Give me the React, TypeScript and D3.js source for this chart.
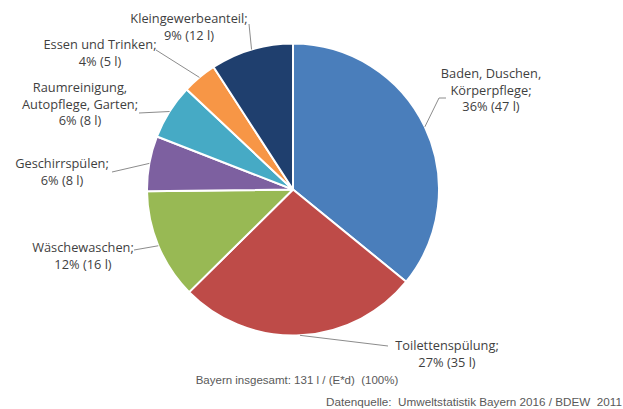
import React from "react";
import * as d3 from "d3";

const categories = [
  "Baden, Duschen, Körperpflege",
  "Toilettenspülung",
  "Wäschewaschen",
  "Geschirrspülen",
  "Raumreinigung, Autopflege, Garten",
  "Essen und Trinken",
  "Kleingewerbeanteil",
];
const liters = [47, 35, 16, 8, 8, 5, 12];
const percents = [36, 27, 12, 6, 6, 4, 9];
const labelLines = [
  ["Baden, Duschen,", "Körperpflege;", "36% (47 l)"],
  ["Toilettenspülung;", "27% (35 l)"],
  ["Wäschewaschen;", "12% (16 l)"],
  ["Geschirrspülen;", "6% (8 l)"],
  ["Raumreinigung,", "Autopflege, Garten;", "6% (8 l)"],
  ["Essen und Trinken;", "4% (5 l)"],
  ["Kleingewerbeanteil;", "9% (12 l)"],
];
const colors = ["#4A7EBB", "#BE4B48", "#98B954", "#7D60A0", "#46AAC5", "#F79646", "#1F3F6E"];

// label layout (centre x, first baseline y) and leader knee points
const labelPos: [number, number][] = [
  [491, 78],
  [447, 350],
  [83, 252],
  [62, 168],
  [80, 92],
  [100, 49],
  [189, 23],
];
const leaderStart: [number, number][][] = [
  [[446, 98], [439, 98]],
  [[388, 346]],
  [[134, 250]],
  [[112, 172]],
  [[139, 113]],
  [[156, 50]],
  [[249, 24]],
];

export default function App() {
  const W = 623, H = 409;
  const cx = 293, cy = 189.5, r = 146;
  const pie = d3.pie<number>().sort(null).value((d) => d);
  const arcs = pie(liters);
  const arcGen = d3.arc<d3.PieArcDatum<number>>().innerRadius(0).outerRadius(r);
  const total = d3.sum(liters);

  return (
    <svg width={W} height={H} style={{ position: "absolute", left: 0, top: 0, background: "#fff" }}>
      <g transform={`translate(${cx},${cy})`}>
        {arcs.map((a, i) => (
          <path key={categories[i]} d={arcGen(a) || ""} fill={colors[i]} stroke="#fff" strokeWidth={2} strokeLinejoin="round" />
        ))}
      </g>
      {arcs.map((a, i) => {
        const mid = (a.startAngle + a.endAngle) / 2;
        const px = cx + r * Math.sin(mid);
        const py = cy - r * Math.cos(mid);
        const pts = [...leaderStart[i], [px, py]];
        return (
          <polyline key={"l" + i} points={pts.map((p) => p.join(",")).join(" ")} fill="none" stroke="#8c8c8c" strokeWidth={1} />
        );
      })}
      {labelLines.map((lines, i) => (
        <text key={"t" + i} x={labelPos[i][0]} y={labelPos[i][1]} textAnchor="middle" fontFamily="'Open Sans', Lato, sans-serif" fontSize={12.8} fill="#3f3f3f">
          {lines.map((ln, j) => (
            <tspan key={j} x={labelPos[i][0]} dy={j === 0 ? 0 : 16.5}>{ln}</tspan>
          ))}
        </text>
      ))}
      <text x={297} y={384} textAnchor="middle" fontFamily="'Liberation Sans', Arial, sans-serif" fontSize={11.5} fill="#595959" style={{ whiteSpace: "pre" }}>
        {`Bayern insgesamt: ${total} l / (E*d)  (100%)`}
      </text>
      <text x={622} y={406} textAnchor="end" fontFamily="'Liberation Sans', Arial, sans-serif" fontSize={11.7} fill="#595959" style={{ whiteSpace: "pre" }}>
        {"Datenquelle:  Umweltstatistik Bayern 2016 / BDEW  2011"}
      </text>
    </svg>
  );
}
